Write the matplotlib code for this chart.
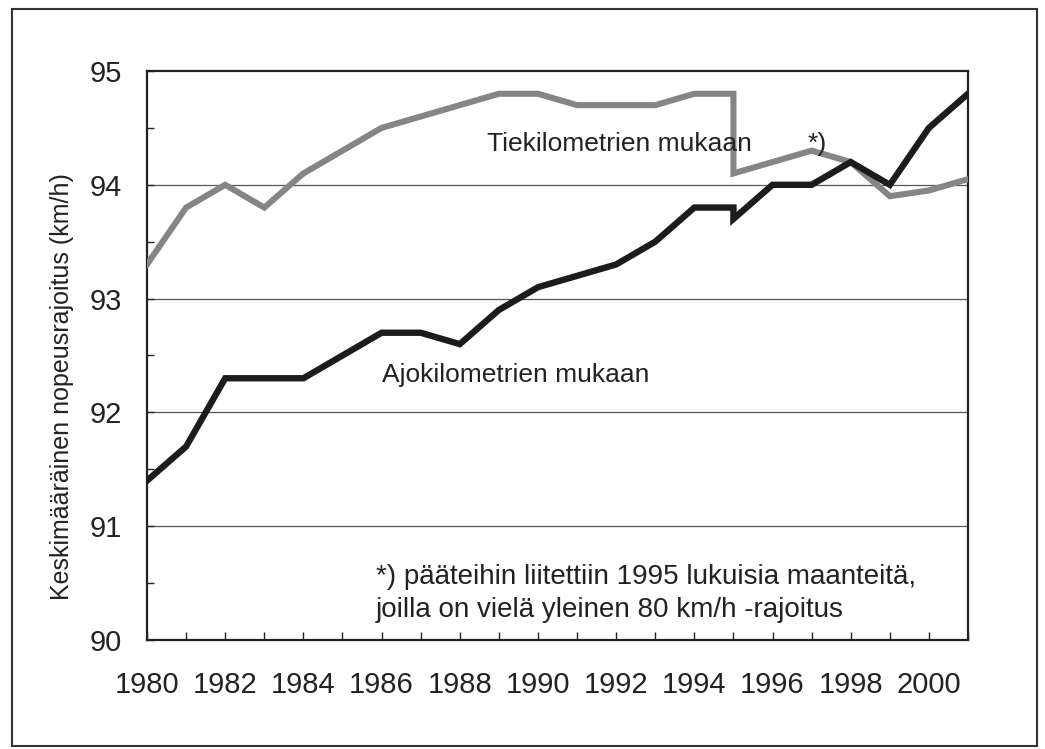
import matplotlib
matplotlib.use("Agg")
import matplotlib.pyplot as plt
from matplotlib.patches import Rectangle
from matplotlib.ticker import MultipleLocator

plt.rcParams['font.family'] = ['Liberation Sans', 'DejaVu Sans']

# Data (1995 appears twice: before and after road network change)
years = [1980, 1981, 1982, 1983, 1984, 1985, 1986, 1987, 1988, 1989, 1990,
         1991, 1992, 1993, 1994, 1995, 1995, 1996, 1997, 1998, 1999, 2000, 2001]
tiekm = [93.3, 93.8, 94.0, 93.8, 94.1, 94.3, 94.5, 94.6, 94.7, 94.8, 94.8,
         94.7, 94.7, 94.7, 94.8, 94.8, 94.1, 94.2, 94.3, 94.2, 93.9, 93.95, 94.05]
ajokm = [91.4, 91.7, 92.3, 92.3, 92.3, 92.5, 92.7, 92.7, 92.6, 92.9, 93.1,
         93.2, 93.3, 93.5, 93.8, 93.8, 93.7, 94.0, 94.0, 94.2, 94.0, 94.5, 94.8]
xtick_years = list(range(1980, 2001, 2))
ytick_vals = [90, 91, 92, 93, 94, 95]

W, H = 1045, 749
fig = plt.figure(figsize=(W / 100, H / 100), dpi=100)
ax = fig.add_axes([147 / W, 1 - 640 / H, (968 - 147) / W, (640 - 71) / H])

ax.plot(years, tiekm, color='#858585', lw=4.4, solid_joinstyle='miter', zorder=3)
ax.plot(years, ajokm, color='#1c1c1c', lw=4.6, solid_joinstyle='miter', zorder=4)

ax.set_xlim(1980, 2001)
ax.set_ylim(90, 95)
ax.set_xticks(xtick_years)
ax.set_xticklabels([str(y) for y in xtick_years])
ax.xaxis.set_minor_locator(MultipleLocator(1))
ax.set_yticks(ytick_vals)
ax.yaxis.set_minor_locator(MultipleLocator(0.5))

for y in ytick_vals[1:-1]:
    ax.axhline(y, color='#555555', lw=0.9, zorder=1)

ax.tick_params(axis='x', which='both', direction='in', length=6, width=1,
               labelsize=21, pad=22, colors='#222222')
ax.tick_params(axis='y', which='both', direction='in', length=5, width=1,
               labelsize=21, pad=18, colors='#222222')
for s in ax.spines.values():
    s.set_linewidth(1.6)
    s.set_color('#222222')

ax.set_ylabel('Keskimääräinen nopeusrajoitus (km/h)', fontsize=18,
              color='#222222')
ax.yaxis.set_label_coords(-0.089, 0.446)

ax.text(1988.7, 94.36, 'Tiekilometrien mukaan', fontsize=19, color='#222222',
        va='center', ha='left')
ax.text(1996.9, 94.36, '*)', fontsize=19, color='#222222', va='center', ha='left')
ax.text(1986.0, 92.33, 'Ajokilometrien mukaan', fontsize=19, color='#222222',
        va='center', ha='left')
ax.text(1985.85, 90.41, '*) pääteihin liitettiin 1995 lukuisia maanteitä,\n'
        'joilla on vielä yleinen 80 km/h -rajoitus', fontsize=20,
        color='#222222', va='center', ha='left', linespacing=1.35)

fig.patches.append(Rectangle((12 / W, 1 - 746 / H), (1037 - 12) / W, (746 - 9) / H,
                             transform=fig.transFigure, fill=False,
                             edgecolor='#333333', lw=1.5))

fig.savefig('out.png', dpi=100)
